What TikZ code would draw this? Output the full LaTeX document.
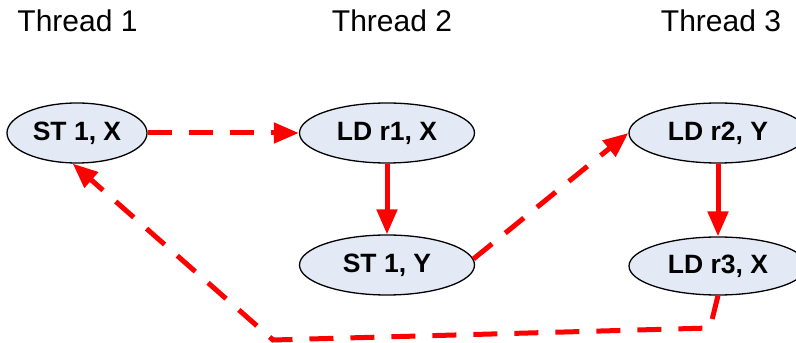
\documentclass[tikz,border=0pt]{standalone}
\usepackage{fontspec}
\setmainfont{Liberation Sans}
\usetikzlibrary{shapes.geometric,arrows.meta}
\definecolor{nodefill}{RGB}{228,234,245}
\tikzset{
  op/.style={ellipse, draw=black, line width=1.3pt, fill=nodefill, inner sep=0pt,
    minimum height=60pt, font=\fontsize{26.5}{29}\selectfont\bfseries},
  title/.style={inner sep=0pt, font=\fontsize{30}{34}\selectfont},
  order/.style={draw=red, line width=5pt, -{Triangle[length=25pt,width=20pt]}},
  race/.style={order, dash pattern=on 24pt off 17pt}
}
\begin{document}
\begin{tikzpicture}[x=1pt,y=1pt]
\useasboundingbox (0,0) rectangle (796,343);
\clip (0,0) rectangle (796,343);
\node[title] (th1) at (77.5,322) {Thread 1};
\node[title] (th2) at (392,322) {Thread 2};
\node[title] (th3) at (721,322) {Thread 3};
\node[op, minimum width=140pt] (sx) at (77,210) {ST 1, X};
\node[op, minimum width=175pt] (l1) at (387,210) {LD r1, X};
\node[op, minimum width=175pt] (s1y) at (387,78) {ST 1, Y};
\node[op, minimum width=178pt] (l2) at (718,210) {LD r2, Y};
\node[op, minimum width=178pt, minimum height=58pt] (l3) at (718,77) {LD r3, X};
\coordinate (c1) at (710,15);
\coordinate (c2) at (273,3);
\draw[race] (sx.east) -- (l1.west);
\draw[order] (l1.south) -- (s1y.north);
\draw[order] (l2.south) -- (l3.north);
\draw[race] (s1y.4) -- (l2.west);
\draw[race] (l3.south) -- (c1) -- (c2) -- (sx.262);
\end{tikzpicture}
\end{document}
